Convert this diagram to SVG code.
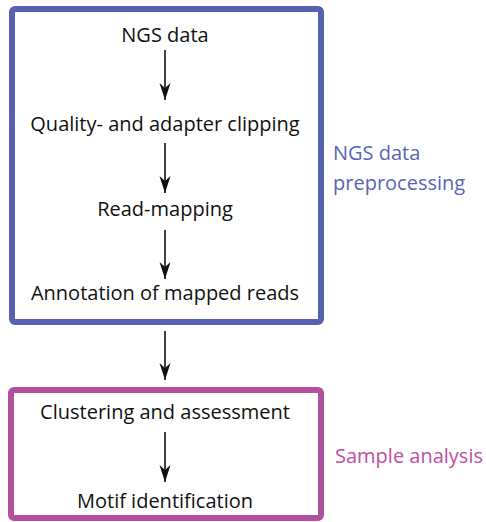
<svg xmlns="http://www.w3.org/2000/svg" width="486" height="522" viewBox="0 0 486 522">
<style>
.t{font-family:"Open Sans","Liberation Sans",sans-serif;font-size:20px;fill:#111;text-anchor:middle}
.lb{font-family:"Open Sans","Liberation Sans",sans-serif;font-size:20px}
.c{stroke:#111;stroke-width:1.6;fill:none;marker-end:url(#ah)}
</style>
<defs>
<marker id="ah" markerUnits="userSpaceOnUse" markerWidth="18" markerHeight="12" refX="17" refY="6" orient="auto" viewBox="0 0 18 12">
<path d="M0,0.5 L17,6 L0,11.5 L5,6 Z" fill="#111"/>
</marker>
</defs>
<rect x="0" y="0" width="486" height="522" fill="#fff"/>
<g id="box-preprocessing">
<rect x="12" y="9" width="309" height="313" rx="3" fill="none" stroke="#5661B2" stroke-width="6"/>
<text class="lb" x="333" y="160" fill="#5A64B8">NGS data</text>
<text class="lb" x="333" y="190" fill="#5A64B8">preprocessing</text>
</g>
<g id="box-analysis">
<rect x="11" y="390" width="310" height="128" rx="3" fill="none" stroke="#B0509E" stroke-width="6"/>
<text class="lb" x="335" y="463" fill="#C0509F">Sample analysis</text>
</g>
<g id="n1"><text class="t" x="165" y="42">NGS data</text></g>
<g id="n2"><text class="t" x="165" y="131">Quality- and adapter clipping</text></g>
<g id="n3"><text class="t" x="165" y="216">Read-mapping</text></g>
<g id="n4"><text class="t" x="165" y="300">Annotation of mapped reads</text></g>
<g id="n5"><text class="t" x="165" y="419">Clustering and assessment</text></g>
<g id="n6"><text class="t" x="165" y="508">Motif identification</text></g>
<g id="connectors">
<line class="c" x1="165" y1="50" x2="165" y2="100"/>
<line class="c" x1="165" y1="143" x2="165" y2="193"/>
<line class="c" x1="165" y1="230" x2="165" y2="279"/>
<line class="c" x1="165" y1="331" x2="165" y2="380"/>
<line class="c" x1="165" y1="432" x2="165" y2="482"/>
</g>
</svg>
